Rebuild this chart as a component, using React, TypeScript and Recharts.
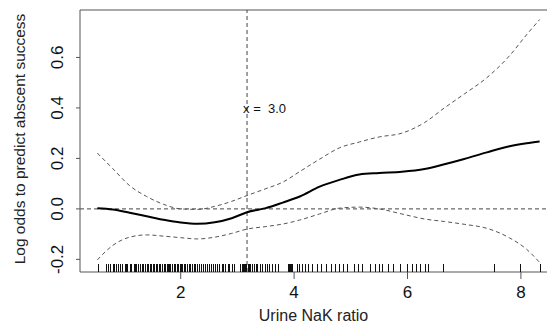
import React from "react";
import {
  ComposedChart,
  Line,
  Scatter,
  XAxis,
  YAxis,
  ReferenceLine,
  ReferenceDot,
} from "recharts";

// smooth term: estimate and 95% band
const nakX = [0.53, 0.8, 1.1, 1.4, 1.7, 2.0, 2.3, 2.6, 2.9, 3.17, 3.5, 3.8, 4.1, 4.45, 4.8, 5.15, 5.5, 5.9, 6.3, 6.65, 7.0, 7.4, 7.8, 8.1, 8.33];
const fitY = [0.003, -0.002, -0.015, -0.029, -0.043, -0.054, -0.059, -0.053, -0.037, -0.013, 0.003, 0.025, 0.049, 0.088, 0.115, 0.136, 0.142, 0.147, 0.158, 0.177, 0.198, 0.224, 0.248, 0.26, 0.267];
const upperY = [0.221, 0.16, 0.092, 0.049, 0.018, 0.0, -0.002, 0.01, 0.03, 0.053, 0.08, 0.106, 0.148, 0.197, 0.242, 0.265, 0.285, 0.3, 0.342, 0.4, 0.455, 0.52, 0.607, 0.69, 0.75];
const lowerY = [-0.202, -0.145, -0.112, -0.103, -0.108, -0.114, -0.119, -0.112, -0.097, -0.08, -0.07, -0.06, -0.044, -0.02, 0.003, 0.007, 0.0, -0.02, -0.04, -0.05, -0.061, -0.077, -0.115, -0.16, -0.212];

// observed ratios (rug)
const rugX = [
  0.54, 0.68, 0.72, 0.76, 0.8, 0.83, 0.86, 0.9, 0.93, 0.97, 1.01, 1.03, 1.06, 1.1, 1.13, 1.17, 1.2, 1.22,
  1.25, 1.28, 1.31, 1.34, 1.37, 1.4, 1.43, 1.46, 1.48, 1.51, 1.53, 1.56, 1.59, 1.62, 1.64, 1.67, 1.7,
  1.72, 1.75, 1.77, 1.8, 1.82, 1.85, 1.88, 1.9, 1.93, 1.95, 1.98, 2.0, 2.02, 2.05, 2.08, 2.11, 2.14,
  2.17, 2.2, 2.23, 2.26, 2.29, 2.33, 2.36, 2.4, 2.43, 2.47, 2.5, 2.54, 2.57, 2.61, 2.64, 2.68, 2.72,
  2.75, 2.79, 2.83, 2.86, 2.9, 2.94, 3.05, 3.08, 3.1, 3.12, 3.14, 3.16, 3.18, 3.2, 3.23, 3.26, 3.29,
  3.32, 3.35, 3.39, 3.44, 3.48, 3.52, 3.56, 3.61, 3.66, 3.71, 3.89, 3.91, 3.93, 3.95, 3.97, 4.05,
  4.09, 4.14, 4.19, 4.25, 4.32, 4.4, 4.47, 4.56, 4.65, 4.72, 4.8, 4.87, 4.94, 5.05, 5.13, 5.19, 5.34,
  5.43, 5.49, 5.55, 5.66, 5.75, 5.87, 5.99, 6.08, 6.15, 6.22, 6.31, 6.37, 6.63, 7.52, 7.98, 8.34,
];

const xTicks = [2, 4, 6, 8];
const yTicks = [-0.2, 0.0, 0.2, 0.4, 0.6];
const xDomain = [0.224, 8.46];
const yDomain = [-0.25, 0.788];
const cutX = 3.17;
const cutLabel = "x =\u00a0 3.0";

const rows = nakX.map((x, i) => ({ x, fit: fitY[i], upper: upperY[i], lower: lowerY[i] }));
const rugData = rugX.map((x) => ({ x, y: yDomain[0] }));

const FONT = "'Liberation Sans', Arial, sans-serif";

function XTick(props: any) {
  return (
    <text x={props.x} y={298} textAnchor="middle" fontSize={17} fontFamily={FONT} fill="#111">
      {props.payload.value}
    </text>
  );
}

function YTick(props: any) {
  return (
    <text
      x={63}
      y={props.y}
      transform={`rotate(-90, 63, ${props.y})`}
      textAnchor="middle"
      fontSize={17}
      fontFamily={FONT}
      fill="#111"
    >
      {Number(props.payload.value).toFixed(1)}
    </text>
  );
}

function RugTick(props: any) {
  const cx = Math.round(props.cx) + 0.5;
  return <line x1={cx} x2={cx} y1={props.cy - 8} y2={props.cy} stroke="#111" strokeWidth={1} />;
}

export default function App() {
  return (
    <div style={{ position: "absolute", left: 0, top: 0, background: "#fff" }}>
      <ComposedChart width={547} height={325} data={rows} margin={{ top: 10, right: 0, bottom: 0, left: 0 }}>
        <XAxis
          dataKey="x"
          type="number"
          domain={xDomain}
          ticks={xTicks}
          allowDataOverflow
          height={53}
          tickSize={7}
          stroke="#555"
          tick={<XTick />}
          label={{
            content: () => (
              <text x={313.5} y={321} textAnchor="middle" fontSize={16} fontFamily={FONT} fill="#222">
                Urine NaK ratio
              </text>
            ),
          }}
        />
        <YAxis
          type="number"
          domain={yDomain}
          ticks={yTicks}
          allowDataOverflow
          width={80}
          tickSize={4}
          stroke="#555"
          tick={<YTick />}
          label={{
            content: () => (
              <text
                x={25}
                y={139}
                transform="rotate(-90, 25, 139)"
                textAnchor="middle"
                fontSize={15.5}
                fontFamily={FONT}
                fill="#222"
              >
                Log odds to predict abscent success
              </text>
            ),
          }}
        />
        <ReferenceLine y={yDomain[1]} stroke="#555" strokeWidth={1} />
        <ReferenceLine y={0} stroke="#444" strokeDasharray="4 3" />
        <ReferenceLine x={cutX} stroke="#444" strokeDasharray="4 3" />
        <ReferenceDot
          x={cutX}
          y={0.4}
          r={0}
          shape={(p: any) => (
            <text x={p.cx - 4} y={p.cy + 5} fontSize={13} fontFamily={FONT} fill="#111">
              {cutLabel}
            </text>
          )}
        />
        <Line dataKey="upper" type="monotone" stroke="#555" strokeWidth={1} strokeDasharray="4 3" dot={false} isAnimationActive={false} />
        <Line dataKey="lower" type="monotone" stroke="#555" strokeWidth={1} strokeDasharray="4 3" dot={false} isAnimationActive={false} />
        <Line dataKey="fit" type="monotone" stroke="#000" strokeWidth={2} dot={false} isAnimationActive={false} />
        <Scatter data={rugData} dataKey="y" shape={<RugTick />} isAnimationActive={false} />
      </ComposedChart>
    </div>
  );
}
